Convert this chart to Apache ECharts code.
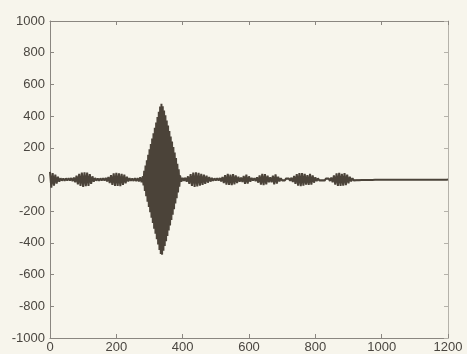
<!DOCTYPE html>
<html>
<head>
<meta charset="utf-8">
<script src="https://cdn.jsdelivr.net/npm/echarts@6/dist/echarts.min.js"></script>
<style>
html,body{margin:0;padding:0;background:#f7f5ec;}
#c{width:467px;height:354px;}
</style>
</head>
<body>
<div id="c"></div>
<script>
// Tick labels
var xTicks = [0, 200, 400, 600, 800, 1000, 1200];
var yTicks = [-1000, -800, -600, -400, -200, 0, 200, 400, 600, 800, 1000];

// Signal segments: [start time, sample spacing, values]
var seg0  = [0,   4, [48,-52,40,-38,30,-26,18,-14]];
var seg1  = [32,  4, [8,-7,6,-8,7,-6,8,-7,9,-10,12]];
var seg2  = [76,  4, [-18,24,-30,36,-40,44,-46,45,-42,44,-40,34,-28,20,-14]];
var seg3  = [136, 4, [9,-7,6,-8,7,-6,8,-7,10,-12]];
var seg4  = [176, 4, [16,-22,28,-34,38,-40,42,-40,38,-42,36,-34,30,-24,18,-12]];
var seg5  = [240, 4, [9,-8,7,-9,8,-10,9,-12,14,-18]];
var seg6  = [280, 2, [20,-38,55,-72,88,-105,122,-140,156,-174,190,-207,224,-242,258,-275,292,-310,326,-343,360,-377,394,-410,428,-445,460,-470,478,-474,462,-450,436,-420,405,-390,372,-356,340,-322,306,-290,272,-256,240,-222,205,-188,170,-152,135,-118,100,-82,64,-45,26]];
var seg7  = [396, 4, [-14,10,-9,11,-14]];
var seg8  = [416, 4, [20,-28,34,-40,44,-46,45,-44,42,-38,36,-34,30,-28,24,-20,16,-13,10]];
var seg9  = [492, 4, [-8,7,-6,8,-7,9,-12]];
var seg10 = [520, 4, [16,-22,28,-32,35,-34,30,-36,34,-30,26,-22,18,-14,12,-16,22,-28,30,-26,20,-14,10]];
var seg11 = [612, 4, [-7,8,-10]];
var seg12 = [624, 4, [14,-20,26,-32,35,-36,34,-30,24,-18,14,-18,24,-30,32,-26,18,-12]];
var seg13 = [696, 4, [8,-6,5,-6,7,-5,6,-8,11]];
var seg14 = [732, 4, [-16,22,-28,34,-38,40,-42,40,-38,36,-32,28,-34,36,-32,26,-20,14,-10]];
var seg15 = [808, 4, [7,-6,5,-6,5,-7,6,-5,7,-9,12]];
var seg16 = [852, 4, [-18,26,-32,38,-40,42,-40,36,-38,40,-36,30,-24,18,-12,8]];
var seg17 = [916, 4, [-6,5,-5,4,-4,4,-3,4,-3,3,-3,3,-3,2,-3,2,-2,3,-2,2,-2,2,-2,2,-2,1,-2,1,-1,2,-1,1,-1,1,-1,1,-1,1,-1,1,-1,1,-1,1,-1,1,-1,1,-1,1,-1,1,-1,1,-1,1,-1,1,-1,1,-1,1,-1,1,-1,1,-1,1,-1,1,-1,0]];

var segments = [seg0, seg1, seg2, seg3, seg4, seg5, seg6, seg7, seg8,
                seg9, seg10, seg11, seg12, seg13, seg14, seg15, seg16, seg17];
var points = [];
segments.forEach(function (s) {
  s[2].forEach(function (v, i) { points.push([s[0] + i * s[1], v]); });
});

var axisCol = '#8a8680';
var labelCol = '#4a4640';
var font = 'Liberation Sans, Arial, sans-serif';
var plain = function (v) { return String(v); };

var chart = echarts.init(document.getElementById('c'), null, {renderer: 'canvas'});
chart.setOption({
  animation: false,
  backgroundColor: '#f7f5ec',
  grid: {left: 50, right: 19, top: 21, bottom: 15, containLabel: false},
  xAxis: [{
    type: 'value', min: xTicks[0], max: xTicks[xTicks.length - 1], interval: 200,
    position: 'bottom',
    axisLine: {show: true, onZero: false, lineStyle: {color: axisCol, width: 1}},
    axisTick: {show: true, inside: true, length: 4, lineStyle: {color: axisCol}},
    axisLabel: {color: labelCol, fontSize: 13, fontFamily: font, margin: 3, formatter: plain},
    splitLine: {show: false}
  }, {
    type: 'value', min: xTicks[0], max: xTicks[xTicks.length - 1], interval: 200,
    position: 'top',
    axisLine: {show: true, onZero: false, lineStyle: {color: axisCol, width: 1}},
    axisTick: {show: true, inside: true, length: 4, lineStyle: {color: axisCol}},
    axisLabel: {show: false},
    splitLine: {show: false}
  }],
  yAxis: [{
    type: 'value', min: yTicks[0], max: yTicks[yTicks.length - 1], interval: 200,
    position: 'left',
    axisLine: {show: true, onZero: false, lineStyle: {color: axisCol, width: 1}},
    axisTick: {show: true, inside: true, length: 4, lineStyle: {color: axisCol}},
    axisLabel: {color: labelCol, fontSize: 13, fontFamily: font, margin: 5, formatter: plain},
    splitLine: {show: false}
  }, {
    type: 'value', min: yTicks[0], max: yTicks[yTicks.length - 1], interval: 200,
    position: 'right',
    axisLine: {show: true, onZero: false, lineStyle: {color: '#b5b2aa', width: 1}},
    axisTick: {show: true, inside: true, length: 4, lineStyle: {color: '#b5b2aa'}},
    axisLabel: {show: false},
    splitLine: {show: false}
  }],
  series: [{
    type: 'line',
    data: points,
    xAxisIndex: 0, yAxisIndex: 0,
    showSymbol: false,
    symbol: 'none',
    sampling: 'none',
    lineStyle: {color: '#4b4339', width: 2},
    areaStyle: {color: '#4b4339', opacity: 1, origin: 0},
    silent: true
  }]
});
</script>
</body>
</html>
